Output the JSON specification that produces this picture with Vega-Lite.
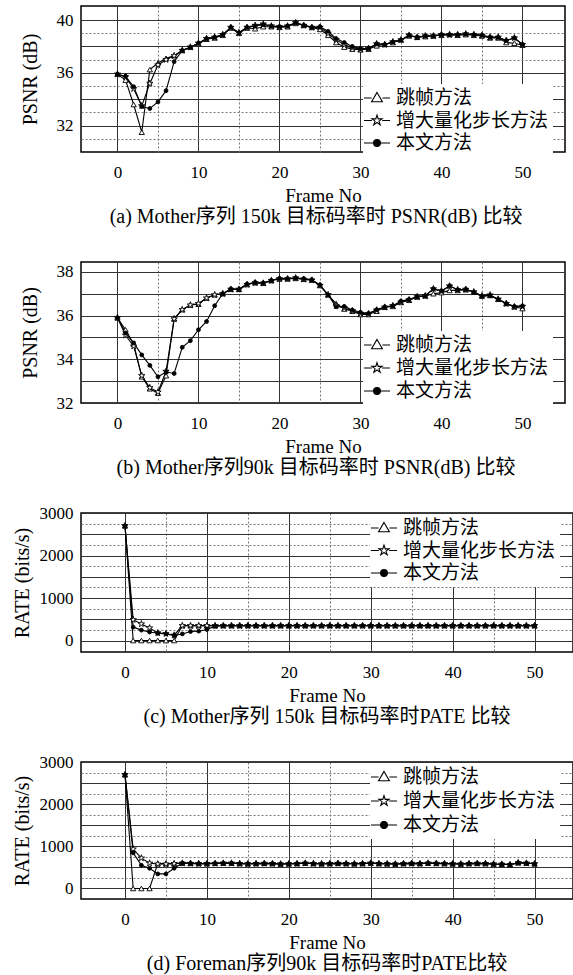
{
"$schema": "https://vega.github.io/schema/vega-lite/v6.json",
"padding": {"left": 11, "top": 5, "right": 0, "bottom": 0},
"background": "white",
"bounds": "flush",
"spacing": 110,
"resolve": {"scale": {"x": "independent", "y": "independent", "shape": "independent", "fill": "independent", "stroke": "independent"}, "legend": {"shape": "independent", "fill": "independent", "stroke": "independent"}},
"datasets": {
"a": [
{"f":0,"s":"跳帧方法","v":35.9},{"f":1,"s":"跳帧方法","v":35.45},{"f":2,"s":"跳帧方法","v":33.6},{"f":3,"s":"跳帧方法","v":31.5},{"f":4,"s":"跳帧方法","v":36.25},{"f":5,"s":"跳帧方法","v":36.75},{"f":6,"s":"跳帧方法","v":37.1},{"f":7,"s":"跳帧方法","v":37.3},{"f":8,"s":"跳帧方法","v":37.7},{"f":9,"s":"跳帧方法","v":37.95},{"f":10,"s":"跳帧方法","v":38.2},{"f":11,"s":"跳帧方法","v":38.55},{"f":12,"s":"跳帧方法","v":38.65},{"f":13,"s":"跳帧方法","v":38.85},{"f":14,"s":"跳帧方法","v":39.4},{"f":15,"s":"跳帧方法","v":39.0},{"f":16,"s":"跳帧方法","v":39.4},{"f":17,"s":"跳帧方法","v":39.35},{"f":18,"s":"跳帧方法","v":39.5},{"f":19,"s":"跳帧方法","v":39.5},{"f":20,"s":"跳帧方法","v":39.45},{"f":21,"s":"跳帧方法","v":39.5},{"f":22,"s":"跳帧方法","v":39.75},{"f":23,"s":"跳帧方法","v":39.6},{"f":24,"s":"跳帧方法","v":39.45},{"f":25,"s":"跳帧方法","v":39.3},{"f":26,"s":"跳帧方法","v":38.85},{"f":27,"s":"跳帧方法","v":38.3},{"f":28,"s":"跳帧方法","v":37.95},{"f":29,"s":"跳帧方法","v":37.8},{"f":30,"s":"跳帧方法","v":37.75},{"f":31,"s":"跳帧方法","v":37.8},{"f":32,"s":"跳帧方法","v":38.05},{"f":33,"s":"跳帧方法","v":38.15},{"f":34,"s":"跳帧方法","v":38.3},{"f":35,"s":"跳帧方法","v":38.5},{"f":36,"s":"跳帧方法","v":38.8},{"f":37,"s":"跳帧方法","v":38.7},{"f":38,"s":"跳帧方法","v":38.75},{"f":39,"s":"跳帧方法","v":38.8},{"f":40,"s":"跳帧方法","v":38.85},{"f":41,"s":"跳帧方法","v":38.9},{"f":42,"s":"跳帧方法","v":38.85},{"f":43,"s":"跳帧方法","v":38.9},{"f":44,"s":"跳帧方法","v":38.85},{"f":45,"s":"跳帧方法","v":38.8},{"f":46,"s":"跳帧方法","v":38.65},{"f":47,"s":"跳帧方法","v":38.65},{"f":48,"s":"跳帧方法","v":38.3},{"f":49,"s":"跳帧方法","v":38.25},{"f":50,"s":"跳帧方法","v":38.1},
{"f":0,"s":"增大量化步长方法","v":35.9},{"f":1,"s":"增大量化步长方法","v":35.7},{"f":2,"s":"增大量化步长方法","v":34.8},{"f":3,"s":"增大量化步长方法","v":33.5},{"f":4,"s":"增大量化步长方法","v":35.2},{"f":5,"s":"增大量化步长方法","v":36.6},{"f":6,"s":"增大量化步长方法","v":37.0},{"f":7,"s":"增大量化步长方法","v":37.3},{"f":8,"s":"增大量化步长方法","v":37.7},{"f":9,"s":"增大量化步长方法","v":37.95},{"f":10,"s":"增大量化步长方法","v":38.25},{"f":11,"s":"增大量化步长方法","v":38.6},{"f":12,"s":"增大量化步长方法","v":38.7},{"f":13,"s":"增大量化步长方法","v":38.9},{"f":14,"s":"增大量化步长方法","v":39.45},{"f":15,"s":"增大量化步长方法","v":39.05},{"f":16,"s":"增大量化步长方法","v":39.45},{"f":17,"s":"增大量化步长方法","v":39.6},{"f":18,"s":"增大量化步长方法","v":39.7},{"f":19,"s":"增大量化步长方法","v":39.55},{"f":20,"s":"增大量化步长方法","v":39.5},{"f":21,"s":"增大量化步长方法","v":39.55},{"f":22,"s":"增大量化步长方法","v":39.8},{"f":23,"s":"增大量化步长方法","v":39.6},{"f":24,"s":"增大量化步长方法","v":39.45},{"f":25,"s":"增大量化步长方法","v":39.45},{"f":26,"s":"增大量化步长方法","v":39.0},{"f":27,"s":"增大量化步长方法","v":38.5},{"f":28,"s":"增大量化步长方法","v":38.15},{"f":29,"s":"增大量化步长方法","v":37.9},{"f":30,"s":"增大量化步长方法","v":37.8},{"f":31,"s":"增大量化步长方法","v":37.85},{"f":32,"s":"增大量化步长方法","v":38.2},{"f":33,"s":"增大量化步长方法","v":38.15},{"f":34,"s":"增大量化步长方法","v":38.35},{"f":35,"s":"增大量化步长方法","v":38.5},{"f":36,"s":"增大量化步长方法","v":38.85},{"f":37,"s":"增大量化步长方法","v":38.7},{"f":38,"s":"增大量化步长方法","v":38.8},{"f":39,"s":"增大量化步长方法","v":38.8},{"f":40,"s":"增大量化步长方法","v":38.9},{"f":41,"s":"增大量化步长方法","v":38.9},{"f":42,"s":"增大量化步长方法","v":38.9},{"f":43,"s":"增大量化步长方法","v":38.95},{"f":44,"s":"增大量化步长方法","v":38.9},{"f":45,"s":"增大量化步长方法","v":38.85},{"f":46,"s":"增大量化步长方法","v":38.7},{"f":47,"s":"增大量化步长方法","v":38.7},{"f":48,"s":"增大量化步长方法","v":38.45},{"f":49,"s":"增大量化步长方法","v":38.65},{"f":50,"s":"增大量化步长方法","v":38.15},
{"f":0,"s":"本文方法","v":35.9},{"f":1,"s":"本文方法","v":35.75},{"f":2,"s":"本文方法","v":34.95},{"f":3,"s":"本文方法","v":33.45},{"f":4,"s":"本文方法","v":33.3},{"f":5,"s":"本文方法","v":33.8},{"f":6,"s":"本文方法","v":34.65},{"f":7,"s":"本文方法","v":36.85},{"f":8,"s":"本文方法","v":37.7},{"f":9,"s":"本文方法","v":37.95},{"f":10,"s":"本文方法","v":38.25},{"f":11,"s":"本文方法","v":38.6},{"f":12,"s":"本文方法","v":38.7},{"f":13,"s":"本文方法","v":38.9},{"f":14,"s":"本文方法","v":39.45},{"f":15,"s":"本文方法","v":39.05},{"f":16,"s":"本文方法","v":39.45},{"f":17,"s":"本文方法","v":39.55},{"f":18,"s":"本文方法","v":39.65},{"f":19,"s":"本文方法","v":39.55},{"f":20,"s":"本文方法","v":39.5},{"f":21,"s":"本文方法","v":39.55},{"f":22,"s":"本文方法","v":39.8},{"f":23,"s":"本文方法","v":39.6},{"f":24,"s":"本文方法","v":39.45},{"f":25,"s":"本文方法","v":39.5},{"f":26,"s":"本文方法","v":39.15},{"f":27,"s":"本文方法","v":38.6},{"f":28,"s":"本文方法","v":38.3},{"f":29,"s":"本文方法","v":38.0},{"f":30,"s":"本文方法","v":37.85},{"f":31,"s":"本文方法","v":37.85},{"f":32,"s":"本文方法","v":38.2},{"f":33,"s":"本文方法","v":38.15},{"f":34,"s":"本文方法","v":38.35},{"f":35,"s":"本文方法","v":38.5},{"f":36,"s":"本文方法","v":38.85},{"f":37,"s":"本文方法","v":38.7},{"f":38,"s":"本文方法","v":38.8},{"f":39,"s":"本文方法","v":38.8},{"f":40,"s":"本文方法","v":38.9},{"f":41,"s":"本文方法","v":38.9},{"f":42,"s":"本文方法","v":38.9},{"f":43,"s":"本文方法","v":38.95},{"f":44,"s":"本文方法","v":38.9},{"f":45,"s":"本文方法","v":38.85},{"f":46,"s":"本文方法","v":38.7},{"f":47,"s":"本文方法","v":38.7},{"f":48,"s":"本文方法","v":38.45},{"f":49,"s":"本文方法","v":38.65},{"f":50,"s":"本文方法","v":38.15}
],
"b": [
{"f":0,"s":"跳帧方法","v":35.9},{"f":1,"s":"跳帧方法","v":35.35},{"f":2,"s":"跳帧方法","v":34.7},{"f":3,"s":"跳帧方法","v":33.2},{"f":4,"s":"跳帧方法","v":32.65},{"f":5,"s":"跳帧方法","v":32.45},{"f":6,"s":"跳帧方法","v":33.25},{"f":7,"s":"跳帧方法","v":35.85},{"f":8,"s":"跳帧方法","v":36.27},{"f":9,"s":"跳帧方法","v":36.48},{"f":10,"s":"跳帧方法","v":36.52},{"f":11,"s":"跳帧方法","v":36.8},{"f":12,"s":"跳帧方法","v":36.95},{"f":13,"s":"跳帧方法","v":37.0},{"f":14,"s":"跳帧方法","v":37.2},{"f":15,"s":"跳帧方法","v":37.2},{"f":16,"s":"跳帧方法","v":37.42},{"f":17,"s":"跳帧方法","v":37.5},{"f":18,"s":"跳帧方法","v":37.48},{"f":19,"s":"跳帧方法","v":37.6},{"f":20,"s":"跳帧方法","v":37.68},{"f":21,"s":"跳帧方法","v":37.68},{"f":22,"s":"跳帧方法","v":37.7},{"f":23,"s":"跳帧方法","v":37.66},{"f":24,"s":"跳帧方法","v":37.62},{"f":25,"s":"跳帧方法","v":37.38},{"f":26,"s":"跳帧方法","v":36.95},{"f":27,"s":"跳帧方法","v":36.55},{"f":28,"s":"跳帧方法","v":36.3},{"f":29,"s":"跳帧方法","v":36.2},{"f":30,"s":"跳帧方法","v":36.05},{"f":31,"s":"跳帧方法","v":36.05},{"f":32,"s":"跳帧方法","v":36.2},{"f":33,"s":"跳帧方法","v":36.38},{"f":34,"s":"跳帧方法","v":36.42},{"f":35,"s":"跳帧方法","v":36.6},{"f":36,"s":"跳帧方法","v":36.7},{"f":37,"s":"跳帧方法","v":36.85},{"f":38,"s":"跳帧方法","v":36.9},{"f":39,"s":"跳帧方法","v":37.0},{"f":40,"s":"跳帧方法","v":37.05},{"f":41,"s":"跳帧方法","v":37.15},{"f":42,"s":"跳帧方法","v":37.15},{"f":43,"s":"跳帧方法","v":37.18},{"f":44,"s":"跳帧方法","v":37.08},{"f":45,"s":"跳帧方法","v":36.9},{"f":46,"s":"跳帧方法","v":36.92},{"f":47,"s":"跳帧方法","v":36.75},{"f":48,"s":"跳帧方法","v":36.55},{"f":49,"s":"跳帧方法","v":36.4},{"f":50,"s":"跳帧方法","v":36.32},
{"f":0,"s":"增大量化步长方法","v":35.9},{"f":1,"s":"增大量化步长方法","v":35.1},{"f":2,"s":"增大量化步长方法","v":34.6},{"f":3,"s":"增大量化步长方法","v":33.25},{"f":4,"s":"增大量化步长方法","v":32.7},{"f":5,"s":"增大量化步长方法","v":32.5},{"f":6,"s":"增大量化步长方法","v":33.45},{"f":7,"s":"增大量化步长方法","v":35.85},{"f":8,"s":"增大量化步长方法","v":36.27},{"f":9,"s":"增大量化步长方法","v":36.48},{"f":10,"s":"增大量化步长方法","v":36.55},{"f":11,"s":"增大量化步长方法","v":36.8},{"f":12,"s":"增大量化步长方法","v":36.95},{"f":13,"s":"增大量化步长方法","v":37.0},{"f":14,"s":"增大量化步长方法","v":37.2},{"f":15,"s":"增大量化步长方法","v":37.2},{"f":16,"s":"增大量化步长方法","v":37.42},{"f":17,"s":"增大量化步长方法","v":37.5},{"f":18,"s":"增大量化步长方法","v":37.48},{"f":19,"s":"增大量化步长方法","v":37.6},{"f":20,"s":"增大量化步长方法","v":37.68},{"f":21,"s":"增大量化步长方法","v":37.68},{"f":22,"s":"增大量化步长方法","v":37.72},{"f":23,"s":"增大量化步长方法","v":37.66},{"f":24,"s":"增大量化步长方法","v":37.62},{"f":25,"s":"增大量化步长方法","v":37.38},{"f":26,"s":"增大量化步长方法","v":36.95},{"f":27,"s":"增大量化步长方法","v":36.45},{"f":28,"s":"增大量化步长方法","v":36.35},{"f":29,"s":"增大量化步长方法","v":36.22},{"f":30,"s":"增大量化步长方法","v":36.1},{"f":31,"s":"增大量化步长方法","v":36.08},{"f":32,"s":"增大量化步长方法","v":36.25},{"f":33,"s":"增大量化步长方法","v":36.38},{"f":34,"s":"增大量化步长方法","v":36.45},{"f":35,"s":"增大量化步长方法","v":36.62},{"f":36,"s":"增大量化步长方法","v":36.72},{"f":37,"s":"增大量化步长方法","v":36.86},{"f":38,"s":"增大量化步长方法","v":36.9},{"f":39,"s":"增大量化步长方法","v":37.22},{"f":40,"s":"增大量化步长方法","v":37.12},{"f":41,"s":"增大量化步长方法","v":37.35},{"f":42,"s":"增大量化步长方法","v":37.18},{"f":43,"s":"增大量化步长方法","v":37.2},{"f":44,"s":"增大量化步长方法","v":37.08},{"f":45,"s":"增大量化步长方法","v":36.9},{"f":46,"s":"增大量化步长方法","v":36.94},{"f":47,"s":"增大量化步长方法","v":36.75},{"f":48,"s":"增大量化步长方法","v":36.55},{"f":49,"s":"增大量化步长方法","v":36.4},{"f":50,"s":"增大量化步长方法","v":36.42},
{"f":0,"s":"本文方法","v":35.9},{"f":1,"s":"本文方法","v":35.2},{"f":2,"s":"本文方法","v":34.75},{"f":3,"s":"本文方法","v":34.2},{"f":4,"s":"本文方法","v":33.72},{"f":5,"s":"本文方法","v":33.2},{"f":6,"s":"本文方法","v":33.42},{"f":7,"s":"本文方法","v":33.35},{"f":8,"s":"本文方法","v":34.55},{"f":9,"s":"本文方法","v":34.85},{"f":10,"s":"本文方法","v":35.35},{"f":11,"s":"本文方法","v":35.73},{"f":12,"s":"本文方法","v":36.45},{"f":13,"s":"本文方法","v":37.0},{"f":14,"s":"本文方法","v":37.22},{"f":15,"s":"本文方法","v":37.2},{"f":16,"s":"本文方法","v":37.44},{"f":17,"s":"本文方法","v":37.52},{"f":18,"s":"本文方法","v":37.49},{"f":19,"s":"本文方法","v":37.61},{"f":20,"s":"本文方法","v":37.7},{"f":21,"s":"本文方法","v":37.69},{"f":22,"s":"本文方法","v":37.72},{"f":23,"s":"本文方法","v":37.69},{"f":24,"s":"本文方法","v":37.64},{"f":25,"s":"本文方法","v":37.4},{"f":26,"s":"本文方法","v":36.94},{"f":27,"s":"本文方法","v":36.4},{"f":28,"s":"本文方法","v":36.42},{"f":29,"s":"本文方法","v":36.25},{"f":30,"s":"本文方法","v":36.15},{"f":31,"s":"本文方法","v":36.1},{"f":32,"s":"本文方法","v":36.27},{"f":33,"s":"本文方法","v":36.4},{"f":34,"s":"本文方法","v":36.45},{"f":35,"s":"本文方法","v":36.66},{"f":36,"s":"本文方法","v":36.74},{"f":37,"s":"本文方法","v":36.86},{"f":38,"s":"本文方法","v":36.91},{"f":39,"s":"本文方法","v":37.22},{"f":40,"s":"本文方法","v":37.13},{"f":41,"s":"本文方法","v":37.36},{"f":42,"s":"本文方法","v":37.18},{"f":43,"s":"本文方法","v":37.2},{"f":44,"s":"本文方法","v":37.07},{"f":45,"s":"本文方法","v":36.88},{"f":46,"s":"本文方法","v":36.92},{"f":47,"s":"本文方法","v":36.73},{"f":48,"s":"本文方法","v":36.55},{"f":49,"s":"本文方法","v":36.42},{"f":50,"s":"本文方法","v":36.44}
],
"c": [
{"f":0,"s":"跳帧方法","v":2700},{"f":1,"s":"跳帧方法","v":0},{"f":2,"s":"跳帧方法","v":0},{"f":3,"s":"跳帧方法","v":0},{"f":4,"s":"跳帧方法","v":0},{"f":5,"s":"跳帧方法","v":0},{"f":6,"s":"跳帧方法","v":0},{"f":7,"s":"跳帧方法","v":350},{"f":8,"s":"跳帧方法","v":350},{"f":9,"s":"跳帧方法","v":350},{"f":10,"s":"跳帧方法","v":350},{"f":11,"s":"跳帧方法","v":350},{"f":12,"s":"跳帧方法","v":350},{"f":13,"s":"跳帧方法","v":350},{"f":14,"s":"跳帧方法","v":350},{"f":15,"s":"跳帧方法","v":350},{"f":16,"s":"跳帧方法","v":350},{"f":17,"s":"跳帧方法","v":350},{"f":18,"s":"跳帧方法","v":350},{"f":19,"s":"跳帧方法","v":350},{"f":20,"s":"跳帧方法","v":350},{"f":21,"s":"跳帧方法","v":350},{"f":22,"s":"跳帧方法","v":350},{"f":23,"s":"跳帧方法","v":350},{"f":24,"s":"跳帧方法","v":350},{"f":25,"s":"跳帧方法","v":350},{"f":26,"s":"跳帧方法","v":350},{"f":27,"s":"跳帧方法","v":350},{"f":28,"s":"跳帧方法","v":350},{"f":29,"s":"跳帧方法","v":350},{"f":30,"s":"跳帧方法","v":350},{"f":31,"s":"跳帧方法","v":350},{"f":32,"s":"跳帧方法","v":350},{"f":33,"s":"跳帧方法","v":350},{"f":34,"s":"跳帧方法","v":350},{"f":35,"s":"跳帧方法","v":350},{"f":36,"s":"跳帧方法","v":350},{"f":37,"s":"跳帧方法","v":350},{"f":38,"s":"跳帧方法","v":350},{"f":39,"s":"跳帧方法","v":350},{"f":40,"s":"跳帧方法","v":350},{"f":41,"s":"跳帧方法","v":350},{"f":42,"s":"跳帧方法","v":350},{"f":43,"s":"跳帧方法","v":350},{"f":44,"s":"跳帧方法","v":350},{"f":45,"s":"跳帧方法","v":350},{"f":46,"s":"跳帧方法","v":350},{"f":47,"s":"跳帧方法","v":350},{"f":48,"s":"跳帧方法","v":350},{"f":49,"s":"跳帧方法","v":350},{"f":50,"s":"跳帧方法","v":350},
{"f":0,"s":"增大量化步长方法","v":2700},{"f":1,"s":"增大量化步长方法","v":490},{"f":2,"s":"增大量化步长方法","v":390},{"f":3,"s":"增大量化步长方法","v":295},{"f":4,"s":"增大量化步长方法","v":180},{"f":5,"s":"增大量化步长方法","v":160},{"f":6,"s":"增大量化步长方法","v":125},{"f":7,"s":"增大量化步长方法","v":350},{"f":8,"s":"增大量化步长方法","v":350},{"f":9,"s":"增大量化步长方法","v":350},{"f":10,"s":"增大量化步长方法","v":350},{"f":11,"s":"增大量化步长方法","v":350},{"f":12,"s":"增大量化步长方法","v":350},{"f":13,"s":"增大量化步长方法","v":350},{"f":14,"s":"增大量化步长方法","v":350},{"f":15,"s":"增大量化步长方法","v":350},{"f":16,"s":"增大量化步长方法","v":350},{"f":17,"s":"增大量化步长方法","v":350},{"f":18,"s":"增大量化步长方法","v":350},{"f":19,"s":"增大量化步长方法","v":350},{"f":20,"s":"增大量化步长方法","v":350},{"f":21,"s":"增大量化步长方法","v":350},{"f":22,"s":"增大量化步长方法","v":350},{"f":23,"s":"增大量化步长方法","v":350},{"f":24,"s":"增大量化步长方法","v":350},{"f":25,"s":"增大量化步长方法","v":350},{"f":26,"s":"增大量化步长方法","v":350},{"f":27,"s":"增大量化步长方法","v":350},{"f":28,"s":"增大量化步长方法","v":350},{"f":29,"s":"增大量化步长方法","v":350},{"f":30,"s":"增大量化步长方法","v":350},{"f":31,"s":"增大量化步长方法","v":350},{"f":32,"s":"增大量化步长方法","v":350},{"f":33,"s":"增大量化步长方法","v":350},{"f":34,"s":"增大量化步长方法","v":350},{"f":35,"s":"增大量化步长方法","v":350},{"f":36,"s":"增大量化步长方法","v":350},{"f":37,"s":"增大量化步长方法","v":350},{"f":38,"s":"增大量化步长方法","v":350},{"f":39,"s":"增大量化步长方法","v":350},{"f":40,"s":"增大量化步长方法","v":350},{"f":41,"s":"增大量化步长方法","v":350},{"f":42,"s":"增大量化步长方法","v":350},{"f":43,"s":"增大量化步长方法","v":350},{"f":44,"s":"增大量化步长方法","v":350},{"f":45,"s":"增大量化步长方法","v":350},{"f":46,"s":"增大量化步长方法","v":350},{"f":47,"s":"增大量化步长方法","v":350},{"f":48,"s":"增大量化步长方法","v":350},{"f":49,"s":"增大量化步长方法","v":350},{"f":50,"s":"增大量化步长方法","v":350},
{"f":0,"s":"本文方法","v":2700},{"f":1,"s":"本文方法","v":315},{"f":2,"s":"本文方法","v":245},{"f":3,"s":"本文方法","v":200},{"f":4,"s":"本文方法","v":170},{"f":5,"s":"本文方法","v":157},{"f":6,"s":"本文方法","v":118},{"f":7,"s":"本文方法","v":155},{"f":8,"s":"本文方法","v":212},{"f":9,"s":"本文方法","v":220},{"f":10,"s":"本文方法","v":260},{"f":11,"s":"本文方法","v":338},{"f":12,"s":"本文方法","v":350},{"f":13,"s":"本文方法","v":350},{"f":14,"s":"本文方法","v":350},{"f":15,"s":"本文方法","v":350},{"f":16,"s":"本文方法","v":350},{"f":17,"s":"本文方法","v":350},{"f":18,"s":"本文方法","v":350},{"f":19,"s":"本文方法","v":350},{"f":20,"s":"本文方法","v":350},{"f":21,"s":"本文方法","v":350},{"f":22,"s":"本文方法","v":350},{"f":23,"s":"本文方法","v":350},{"f":24,"s":"本文方法","v":350},{"f":25,"s":"本文方法","v":350},{"f":26,"s":"本文方法","v":350},{"f":27,"s":"本文方法","v":350},{"f":28,"s":"本文方法","v":350},{"f":29,"s":"本文方法","v":350},{"f":30,"s":"本文方法","v":350},{"f":31,"s":"本文方法","v":350},{"f":32,"s":"本文方法","v":350},{"f":33,"s":"本文方法","v":350},{"f":34,"s":"本文方法","v":350},{"f":35,"s":"本文方法","v":350},{"f":36,"s":"本文方法","v":350},{"f":37,"s":"本文方法","v":350},{"f":38,"s":"本文方法","v":350},{"f":39,"s":"本文方法","v":350},{"f":40,"s":"本文方法","v":350},{"f":41,"s":"本文方法","v":350},{"f":42,"s":"本文方法","v":350},{"f":43,"s":"本文方法","v":350},{"f":44,"s":"本文方法","v":350},{"f":45,"s":"本文方法","v":350},{"f":46,"s":"本文方法","v":350},{"f":47,"s":"本文方法","v":350},{"f":48,"s":"本文方法","v":350},{"f":49,"s":"本文方法","v":350},{"f":50,"s":"本文方法","v":350}
],
"d": [
{"f":0,"s":"跳帧方法","v":2700},{"f":1,"s":"跳帧方法","v":0},{"f":2,"s":"跳帧方法","v":0},{"f":3,"s":"跳帧方法","v":0},{"f":4,"s":"跳帧方法","v":590},{"f":5,"s":"跳帧方法","v":590},{"f":6,"s":"跳帧方法","v":590},{"f":7,"s":"跳帧方法","v":600},{"f":8,"s":"跳帧方法","v":595},{"f":9,"s":"跳帧方法","v":590},{"f":10,"s":"跳帧方法","v":590},{"f":11,"s":"跳帧方法","v":595},{"f":12,"s":"跳帧方法","v":600},{"f":13,"s":"跳帧方法","v":600},{"f":14,"s":"跳帧方法","v":590},{"f":15,"s":"跳帧方法","v":585},{"f":16,"s":"跳帧方法","v":590},{"f":17,"s":"跳帧方法","v":595},{"f":18,"s":"跳帧方法","v":590},{"f":19,"s":"跳帧方法","v":580},{"f":20,"s":"跳帧方法","v":585},{"f":21,"s":"跳帧方法","v":590},{"f":22,"s":"跳帧方法","v":600},{"f":23,"s":"跳帧方法","v":590},{"f":24,"s":"跳帧方法","v":585},{"f":25,"s":"跳帧方法","v":590},{"f":26,"s":"跳帧方法","v":595},{"f":27,"s":"跳帧方法","v":590},{"f":28,"s":"跳帧方法","v":585},{"f":29,"s":"跳帧方法","v":590},{"f":30,"s":"跳帧方法","v":600},{"f":31,"s":"跳帧方法","v":590},{"f":32,"s":"跳帧方法","v":585},{"f":33,"s":"跳帧方法","v":580},{"f":34,"s":"跳帧方法","v":590},{"f":35,"s":"跳帧方法","v":595},{"f":36,"s":"跳帧方法","v":590},{"f":37,"s":"跳帧方法","v":600},{"f":38,"s":"跳帧方法","v":595},{"f":39,"s":"跳帧方法","v":590},{"f":40,"s":"跳帧方法","v":585},{"f":41,"s":"跳帧方法","v":580},{"f":42,"s":"跳帧方法","v":590},{"f":43,"s":"跳帧方法","v":595},{"f":44,"s":"跳帧方法","v":590},{"f":45,"s":"跳帧方法","v":580},{"f":46,"s":"跳帧方法","v":575},{"f":47,"s":"跳帧方法","v":565},{"f":48,"s":"跳帧方法","v":610},{"f":49,"s":"跳帧方法","v":600},{"f":50,"s":"跳帧方法","v":585},
{"f":0,"s":"增大量化步长方法","v":2700},{"f":1,"s":"增大量化步长方法","v":935},{"f":2,"s":"增大量化步长方法","v":720},{"f":3,"s":"增大量化步长方法","v":600},{"f":4,"s":"增大量化步长方法","v":580},{"f":5,"s":"增大量化步长方法","v":580},{"f":6,"s":"增大量化步长方法","v":590},{"f":7,"s":"增大量化步长方法","v":600},{"f":8,"s":"增大量化步长方法","v":595},{"f":9,"s":"增大量化步长方法","v":590},{"f":10,"s":"增大量化步长方法","v":590},{"f":11,"s":"增大量化步长方法","v":595},{"f":12,"s":"增大量化步长方法","v":600},{"f":13,"s":"增大量化步长方法","v":600},{"f":14,"s":"增大量化步长方法","v":590},{"f":15,"s":"增大量化步长方法","v":585},{"f":16,"s":"增大量化步长方法","v":590},{"f":17,"s":"增大量化步长方法","v":595},{"f":18,"s":"增大量化步长方法","v":590},{"f":19,"s":"增大量化步长方法","v":580},{"f":20,"s":"增大量化步长方法","v":585},{"f":21,"s":"增大量化步长方法","v":590},{"f":22,"s":"增大量化步长方法","v":600},{"f":23,"s":"增大量化步长方法","v":590},{"f":24,"s":"增大量化步长方法","v":585},{"f":25,"s":"增大量化步长方法","v":590},{"f":26,"s":"增大量化步长方法","v":595},{"f":27,"s":"增大量化步长方法","v":590},{"f":28,"s":"增大量化步长方法","v":585},{"f":29,"s":"增大量化步长方法","v":590},{"f":30,"s":"增大量化步长方法","v":600},{"f":31,"s":"增大量化步长方法","v":590},{"f":32,"s":"增大量化步长方法","v":585},{"f":33,"s":"增大量化步长方法","v":580},{"f":34,"s":"增大量化步长方法","v":590},{"f":35,"s":"增大量化步长方法","v":595},{"f":36,"s":"增大量化步长方法","v":590},{"f":37,"s":"增大量化步长方法","v":600},{"f":38,"s":"增大量化步长方法","v":595},{"f":39,"s":"增大量化步长方法","v":590},{"f":40,"s":"增大量化步长方法","v":585},{"f":41,"s":"增大量化步长方法","v":580},{"f":42,"s":"增大量化步长方法","v":590},{"f":43,"s":"增大量化步长方法","v":595},{"f":44,"s":"增大量化步长方法","v":590},{"f":45,"s":"增大量化步长方法","v":580},{"f":46,"s":"增大量化步长方法","v":575},{"f":47,"s":"增大量化步长方法","v":565},{"f":48,"s":"增大量化步长方法","v":610},{"f":49,"s":"增大量化步长方法","v":600},{"f":50,"s":"增大量化步长方法","v":585},
{"f":0,"s":"本文方法","v":2700},{"f":1,"s":"本文方法","v":845},{"f":2,"s":"本文方法","v":550},{"f":3,"s":"本文方法","v":480},{"f":4,"s":"本文方法","v":345},{"f":5,"s":"本文方法","v":345},{"f":6,"s":"本文方法","v":480},{"f":7,"s":"本文方法","v":600},{"f":8,"s":"本文方法","v":595},{"f":9,"s":"本文方法","v":590},{"f":10,"s":"本文方法","v":590},{"f":11,"s":"本文方法","v":595},{"f":12,"s":"本文方法","v":600},{"f":13,"s":"本文方法","v":600},{"f":14,"s":"本文方法","v":590},{"f":15,"s":"本文方法","v":585},{"f":16,"s":"本文方法","v":590},{"f":17,"s":"本文方法","v":595},{"f":18,"s":"本文方法","v":590},{"f":19,"s":"本文方法","v":580},{"f":20,"s":"本文方法","v":585},{"f":21,"s":"本文方法","v":590},{"f":22,"s":"本文方法","v":600},{"f":23,"s":"本文方法","v":590},{"f":24,"s":"本文方法","v":585},{"f":25,"s":"本文方法","v":590},{"f":26,"s":"本文方法","v":595},{"f":27,"s":"本文方法","v":590},{"f":28,"s":"本文方法","v":585},{"f":29,"s":"本文方法","v":590},{"f":30,"s":"本文方法","v":600},{"f":31,"s":"本文方法","v":590},{"f":32,"s":"本文方法","v":585},{"f":33,"s":"本文方法","v":580},{"f":34,"s":"本文方法","v":590},{"f":35,"s":"本文方法","v":595},{"f":36,"s":"本文方法","v":590},{"f":37,"s":"本文方法","v":600},{"f":38,"s":"本文方法","v":595},{"f":39,"s":"本文方法","v":590},{"f":40,"s":"本文方法","v":585},{"f":41,"s":"本文方法","v":580},{"f":42,"s":"本文方法","v":590},{"f":43,"s":"本文方法","v":595},{"f":44,"s":"本文方法","v":590},{"f":45,"s":"本文方法","v":580},{"f":46,"s":"本文方法","v":575},{"f":47,"s":"本文方法","v":565},{"f":48,"s":"本文方法","v":610},{"f":49,"s":"本文方法","v":600},{"f":50,"s":"本文方法","v":585}
]
},
"vconcat": [
{
"width": 484, "height": 146,
"data": {"name": "a"},
"title": {"text": "(a) Mother序列 150k 目标码率时 PSNR(dB) 比较", "dx": -7},
"encoding": {
"x": {"field": "f", "type": "quantitative", "scale": {"domain": [-4.5, 55.25], "nice": false, "zero": false},
 "axis": {"title": "Frame  No", "format": "d", "values": [0,5,10,15,20,25,30,35,40,45,50], "labelExpr": "datum.value % 10 === 0 ? datum.label : ''", "gridDash": {"condition": {"test": "datum.value % 10 !== 0", "value": [2,2]}, "value": []}, "gridColor": {"condition": {"test": "datum.value % 10 !== 0", "value": "#777777"}, "value": "#333333"}}},
"y": {"field": "v", "type": "quantitative", "scale": {"domain": [30, 41.07], "nice": false, "zero": false},
 "axis": {"title": "PSNR (dB)", "format": "d", "titlePadding": 16, "values": [31,32,33,34,35,36,37,38,39,40], "labelExpr": "datum.value % 4 === 0 ? datum.label : ''", "gridDash": {"condition": {"test": "datum.value % 2 !== 0", "value": [2,2]}, "value": []}, "gridColor": {"condition": {"test": "datum.value % 2 !== 0", "value": "#777777"}, "value": "#333333"}}}
},
"layer": [
{"mark": {"type": "line", "color": "black", "strokeWidth": 1.1}, "encoding": {"detail": {"field": "s"}}},
{"mark": {"type": "point", "stroke": "black", "strokeWidth": 0.9, "opacity": 1},
 "encoding": {
  "shape": {"condition": [{"test": "datum.s === '跳帧方法'", "value": "triangle-up"}, {"test": "datum.s === '增大量化步长方法'", "value": "M0,-1L0.223,-0.307L0.951,-0.309L0.361,0.117L0.588,0.809L0,0.38L-0.588,0.809L-0.361,0.117L-0.951,-0.309L-0.223,-0.307Z"}], "value": "circle"},
  "fill": {"condition": {"test": "datum.s === '本文方法'", "value": "black"}, "value": "white"},
  "size": {"condition": [{"test": "datum.s === '本文方法'", "value": 15}, {"test": "datum.s === '增大量化步长方法'", "value": 45}], "value": 28}
 }},
{"transform": [{"filter": "datum.f < -100"}],
 "mark": {"type": "point", "strokeWidth": 1, "opacity": 1},
 "encoding": {
  "shape": {"field": "s", "type": "nominal", "scale": {"domain": ["跳帧方法","增大量化步长方法","本文方法"], "range": ["M-1.45,0L-0.6,0M0.6,0L1.45,0M0,-0.62L0.6,0.42L-0.6,0.42Z", "M-1.45,0L-0.57,0M0.57,0L1.45,0M0,-0.6L0.134,-0.184L0.571,-0.185L0.217,0.07L0.353,0.485L0,0.228L-0.353,0.485L-0.217,0.07L-0.571,-0.185L-0.134,-0.184Z", "M-1.45,0L1.45,0M0.38,0A0.38,0.38 0 1,1 -0.38,0A0.38,0.38 0 1,1 0.38,0Z"]},
   "legend": {"title": null, "orient": "none", "legendX": 282, "legendY": 78, "rowPadding": 2.5}},
  "fill": {"field": "s", "type": "nominal", "scale": {"domain": ["跳帧方法","增大量化步长方法","本文方法"], "range": ["white","white","black"]},
   "legend": {"title": null, "orient": "none", "legendX": 282, "legendY": 78, "rowPadding": 2.5}},
  "stroke": {"field": "s", "type": "nominal", "scale": {"domain": ["跳帧方法","增大量化步长方法","本文方法"], "range": ["black","black","black"]},
   "legend": {"title": null, "orient": "none", "legendX": 282, "legendY": 78, "rowPadding": 2.5}}
 }}
]
},
{
"width": 484, "height": 141,
"data": {"name": "b"},
"title": {"text": "(b) Mother序列90k 目标码率时 PSNR(dB) 比较", "dx": -7},
"encoding": {
"x": {"field": "f", "type": "quantitative", "scale": {"domain": [-4.5, 55.25], "nice": false, "zero": false},
 "axis": {"title": "Frame  No", "format": "d", "values": [0,5,10,15,20,25,30,35,40,45,50], "labelExpr": "datum.value % 10 === 0 ? datum.label : ''", "gridDash": {"condition": {"test": "datum.value % 10 !== 0", "value": [2,2]}, "value": []}, "gridColor": {"condition": {"test": "datum.value % 10 !== 0", "value": "#777777"}, "value": "#333333"}}},
"y": {"field": "v", "type": "quantitative", "scale": {"domain": [32, 38.45], "nice": false, "zero": false},
 "axis": {"title": "PSNR (dB)", "format": "d", "titlePadding": 16, "values": [32,32.5,33,33.5,34,34.5,35,35.5,36,36.5,37,37.5,38], "labelExpr": "datum.value % 2 === 0 ? datum.label : ''", "gridDash": {"condition": {"test": "datum.value % 1 !== 0", "value": [2,2]}, "value": []}, "gridColor": {"condition": {"test": "datum.value % 1 !== 0", "value": "#777777"}, "value": "#333333"}}}
},
"layer": [
{"mark": {"type": "line", "color": "black", "strokeWidth": 1.1}, "encoding": {"detail": {"field": "s"}}},
{"mark": {"type": "point", "stroke": "black", "strokeWidth": 0.9, "opacity": 1},
 "encoding": {
  "shape": {"condition": [{"test": "datum.s === '跳帧方法'", "value": "triangle-up"}, {"test": "datum.s === '增大量化步长方法'", "value": "M0,-1L0.223,-0.307L0.951,-0.309L0.361,0.117L0.588,0.809L0,0.38L-0.588,0.809L-0.361,0.117L-0.951,-0.309L-0.223,-0.307Z"}], "value": "circle"},
  "fill": {"condition": {"test": "datum.s === '本文方法'", "value": "black"}, "value": "white"},
  "size": {"condition": [{"test": "datum.s === '本文方法'", "value": 15}, {"test": "datum.s === '增大量化步长方法'", "value": 45}], "value": 28}
 }},
{"transform": [{"filter": "datum.f < -100"}],
 "mark": {"type": "point", "strokeWidth": 1, "opacity": 1},
 "encoding": {
  "shape": {"field": "s", "type": "nominal", "scale": {"domain": ["跳帧方法","增大量化步长方法","本文方法"], "range": ["M-1.45,0L-0.6,0M0.6,0L1.45,0M0,-0.62L0.6,0.42L-0.6,0.42Z", "M-1.45,0L-0.57,0M0.57,0L1.45,0M0,-0.6L0.134,-0.184L0.571,-0.185L0.217,0.07L0.353,0.485L0,0.228L-0.353,0.485L-0.217,0.07L-0.571,-0.185L-0.134,-0.184Z", "M-1.45,0L1.45,0M0.38,0A0.38,0.38 0 1,1 -0.38,0A0.38,0.38 0 1,1 0.38,0Z"]},
   "legend": {"title": null, "orient": "none", "legendX": 282, "legendY": 69, "rowPadding": 3}},
  "fill": {"field": "s", "type": "nominal", "scale": {"domain": ["跳帧方法","增大量化步长方法","本文方法"], "range": ["white","white","black"]},
   "legend": {"title": null, "orient": "none", "legendX": 282, "legendY": 69, "rowPadding": 3}},
  "stroke": {"field": "s", "type": "nominal", "scale": {"domain": ["跳帧方法","增大量化步长方法","本文方法"], "range": ["black","black","black"]},
   "legend": {"title": null, "orient": "none", "legendX": 282, "legendY": 69, "rowPadding": 3}}
 }}
]
},
{
"width": 492, "height": 139,
"data": {"name": "c"},
"title": {"text": "(c) Mother序列 150k 目标码率时PATE 比较"},
"encoding": {
"x": {"field": "f", "type": "quantitative", "scale": {"domain": [-5.37, 54.69], "nice": false, "zero": false},
 "axis": {"title": "Frame  No", "format": "d", "values": [0,5,10,15,20,25,30,35,40,45,50], "labelExpr": "datum.value % 10 === 0 ? datum.label : ''", "gridDash": {"condition": {"test": "datum.value % 10 !== 0", "value": [2,2]}, "value": []}, "gridColor": {"condition": {"test": "datum.value % 10 !== 0", "value": "#777777"}, "value": "#333333"}}},
"y": {"field": "v", "type": "quantitative", "scale": {"domain": [-270, 3000], "nice": false, "zero": false},
 "axis": {"title": "RATE (bits/s)", "format": "d", "titlePadding": 7, "values": [0,250,500,750,1000,1250,1500,1750,2000,2250,2500,2750,3000], "labelExpr": "datum.value % 1000 === 0 ? datum.label : ''", "gridDash": {"condition": {"test": "datum.value % 500 !== 0", "value": [2,2]}, "value": []}, "gridColor": {"condition": {"test": "datum.value % 500 !== 0", "value": "#777777"}, "value": "#333333"}}}
},
"layer": [
{"mark": {"type": "line", "color": "black", "strokeWidth": 1.1}, "encoding": {"detail": {"field": "s"}}},
{"mark": {"type": "point", "stroke": "black", "strokeWidth": 0.9, "opacity": 1},
 "encoding": {
  "shape": {"condition": [{"test": "datum.s === '跳帧方法'", "value": "triangle-up"}, {"test": "datum.s === '增大量化步长方法'", "value": "M0,-1L0.223,-0.307L0.951,-0.309L0.361,0.117L0.588,0.809L0,0.38L-0.588,0.809L-0.361,0.117L-0.951,-0.309L-0.223,-0.307Z"}], "value": "circle"},
  "fill": {"condition": {"test": "datum.s === '本文方法'", "value": "black"}, "value": "white"},
  "size": {"condition": [{"test": "datum.s === '本文方法'", "value": 15}, {"test": "datum.s === '增大量化步长方法'", "value": 45}], "value": 28}
 }},
{"transform": [{"filter": "datum.f < -100"}],
 "mark": {"type": "point", "strokeWidth": 1, "opacity": 1},
 "encoding": {
  "shape": {"field": "s", "type": "nominal", "scale": {"domain": ["跳帧方法","增大量化步长方法","本文方法"], "range": ["M-1.45,0L-0.6,0M0.6,0L1.45,0M0,-0.62L0.6,0.42L-0.6,0.42Z", "M-1.45,0L-0.57,0M0.57,0L1.45,0M0,-0.6L0.134,-0.184L0.571,-0.185L0.217,0.07L0.353,0.485L0,0.228L-0.353,0.485L-0.217,0.07L-0.571,-0.185L-0.134,-0.184Z", "M-1.45,0L1.45,0M0.38,0A0.38,0.38 0 1,1 -0.38,0A0.38,0.38 0 1,1 0.38,0Z"]},
   "legend": {"title": null, "orient": "none", "legendX": 289, "legendY": 1, "rowPadding": 2.5}},
  "fill": {"field": "s", "type": "nominal", "scale": {"domain": ["跳帧方法","增大量化步长方法","本文方法"], "range": ["white","white","black"]},
   "legend": {"title": null, "orient": "none", "legendX": 289, "legendY": 1, "rowPadding": 2.5}},
  "stroke": {"field": "s", "type": "nominal", "scale": {"domain": ["跳帧方法","增大量化步长方法","本文方法"], "range": ["black","black","black"]},
   "legend": {"title": null, "orient": "none", "legendX": 289, "legendY": 1, "rowPadding": 2.5}}
 }}
]
},
{
"width": 492, "height": 137,
"data": {"name": "d"},
"title": {"text": "(d) Foreman序列90k 目标码率时PATE比较"},
"encoding": {
"x": {"field": "f", "type": "quantitative", "scale": {"domain": [-5.37, 54.69], "nice": false, "zero": false},
 "axis": {"title": "Frame  No", "format": "d", "values": [0,5,10,15,20,25,30,35,40,45,50], "labelExpr": "datum.value % 10 === 0 ? datum.label : ''", "gridDash": {"condition": {"test": "datum.value % 10 !== 0", "value": [2,2]}, "value": []}, "gridColor": {"condition": {"test": "datum.value % 10 !== 0", "value": "#777777"}, "value": "#333333"}}},
"y": {"field": "v", "type": "quantitative", "scale": {"domain": [-250, 3000], "nice": false, "zero": false},
 "axis": {"title": "RATE (bits/s)", "format": "d", "titlePadding": 7, "values": [0,250,500,750,1000,1250,1500,1750,2000,2250,2500,2750,3000], "labelExpr": "datum.value % 1000 === 0 ? datum.label : ''", "gridDash": {"condition": {"test": "datum.value % 500 !== 0", "value": [2,2]}, "value": []}, "gridColor": {"condition": {"test": "datum.value % 500 !== 0", "value": "#777777"}, "value": "#333333"}}}
},
"layer": [
{"mark": {"type": "line", "color": "black", "strokeWidth": 1.1}, "encoding": {"detail": {"field": "s"}}},
{"mark": {"type": "point", "stroke": "black", "strokeWidth": 0.9, "opacity": 1},
 "encoding": {
  "shape": {"condition": [{"test": "datum.s === '跳帧方法'", "value": "triangle-up"}, {"test": "datum.s === '增大量化步长方法'", "value": "M0,-1L0.223,-0.307L0.951,-0.309L0.361,0.117L0.588,0.809L0,0.38L-0.588,0.809L-0.361,0.117L-0.951,-0.309L-0.223,-0.307Z"}], "value": "circle"},
  "fill": {"condition": {"test": "datum.s === '本文方法'", "value": "black"}, "value": "white"},
  "size": {"condition": [{"test": "datum.s === '本文方法'", "value": 15}, {"test": "datum.s === '增大量化步长方法'", "value": 45}], "value": 28}
 }},
{"transform": [{"filter": "datum.f < -100"}],
 "mark": {"type": "point", "strokeWidth": 1, "opacity": 1},
 "encoding": {
  "shape": {"field": "s", "type": "nominal", "scale": {"domain": ["跳帧方法","增大量化步长方法","本文方法"], "range": ["M-1.45,0L-0.6,0M0.6,0L1.45,0M0,-0.62L0.6,0.42L-0.6,0.42Z", "M-1.45,0L-0.57,0M0.57,0L1.45,0M0,-0.6L0.134,-0.184L0.571,-0.185L0.217,0.07L0.353,0.485L0,0.228L-0.353,0.485L-0.217,0.07L-0.571,-0.185L-0.134,-0.184Z", "M-1.45,0L1.45,0M0.38,0A0.38,0.38 0 1,1 -0.38,0A0.38,0.38 0 1,1 0.38,0Z"]},
   "legend": {"title": null, "orient": "none", "legendX": 289, "legendY": 1, "rowPadding": 4}},
  "fill": {"field": "s", "type": "nominal", "scale": {"domain": ["跳帧方法","增大量化步长方法","本文方法"], "range": ["white","white","black"]},
   "legend": {"title": null, "orient": "none", "legendX": 289, "legendY": 1, "rowPadding": 4}},
  "stroke": {"field": "s", "type": "nominal", "scale": {"domain": ["跳帧方法","增大量化步长方法","本文方法"], "range": ["black","black","black"]},
   "legend": {"title": null, "orient": "none", "legendX": 289, "legendY": 1, "rowPadding": 4}}
 }}
]
}
],
"config": {
"font": "Liberation Serif",
"view": {"stroke": "black", "strokeWidth": 1.5},
"axis": {"domain": false, "ticks": false, "labelFont": "Liberation Serif", "labelFontSize": 17, "labelColor": "black", "titleFont": "Liberation Serif", "titleFontWeight": "normal", "titleColor": "black", "labelOverlap": false, "gridOpacity": 1, "gridWidth": 1},
"axisX": {"labelPadding": 12, "titleFontSize": 19, "titlePadding": 6, "labelFlush": false},
"axisY": {"titleFontSize": 20, "labelPadding": 8},
"title": {"font": "Liberation Serif, Noto Sans CJK SC", "fontSize": 20, "fontWeight": "normal", "color": "black", "orient": "bottom", "offset": 2},
"legend": {"orient": "none", "fillColor": "white", "padding": 4, "labelFont": "Noto Sans CJK SC", "labelFontSize": 19, "labelColor": "black", "labelOffset": 9, "symbolSize": 324, "symbolStrokeColor": "black", "symbolStrokeWidth": 1.1, "labelLimit": 300}
}
}
